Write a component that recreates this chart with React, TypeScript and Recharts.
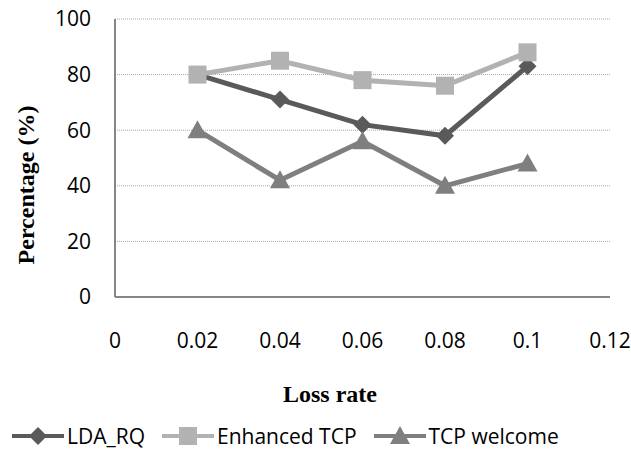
import React from 'react';
import { LineChart, Line, XAxis, YAxis, CartesianGrid } from 'recharts';

const lossRates = [0.02, 0.04, 0.06, 0.08, 0.1];
const ldaRq = [80, 71, 62, 58, 83];
const enhancedTcp = [80, 85, 78, 76, 88];
const tcpWelcome = [60, 42, 56, 40, 48];

const xTicks = [0, 0.02, 0.04, 0.06, 0.08, 0.1, 0.12];
const yTicks = [0, 20, 40, 60, 80, 100];

const data = lossRates.map((x, i) => ({
  x,
  lda: ldaRq[i],
  enhanced: enhancedTcp[i],
  welcome: tcpWelcome[i],
}));

const series = [
  { key: 'lda', name: 'LDA_RQ', color: '#5a5a5a', shape: 'diamond' },
  { key: 'enhanced', name: 'Enhanced TCP', color: '#b2b2b2', shape: 'square' },
  { key: 'welcome', name: 'TCP welcome', color: '#7f7f7f', shape: 'triangle' },
];

const FONT = '"Open Sans", "Liberation Sans", sans-serif';
const SERIF = '"Liberation Serif", "Times New Roman", serif';

const Marker = ({ cx, cy, shape, color }: any) => {
  if (cx == null || cy == null) return null;
  if (shape === 'diamond') {
    return <polygon points={`${cx},${cy - 9} ${cx + 9},${cy} ${cx},${cy + 9} ${cx - 9},${cy}`} fill={color} />;
  }
  if (shape === 'square') {
    return <rect x={cx - 9} y={cy - 9} width={18} height={18} fill={color} />;
  }
  return <polygon points={`${cx},${cy - 10} ${cx + 10},${cy + 8} ${cx - 10},${cy + 8}`} fill={color} />;
};

const LegendIcon = ({ shape, color }: any) => (
  <svg width={52} height={22} style={{ display: 'block' }}>
    <line x1={0} y1={11} x2={52} y2={11} stroke={color} strokeWidth={4} />
    <Marker cx={26} cy={11} shape={shape} color={color} />
  </svg>
);

const App = () => {
  return (
    <div style={{ position: 'absolute', left: 0, top: 0, width: 631, height: 452, background: '#fff' }}>
      <LineChart width={631} height={452} data={data} margin={{ top: 19, right: 21, left: 0, bottom: 0 }}>
        <CartesianGrid vertical={false} stroke="#a6a6a6" strokeDasharray="1 1" />
        <XAxis
          dataKey="x"
          type="number"
          domain={[0, 0.12]}
          ticks={xTicks}
          tickLine={false}
          tickMargin={30}
          height={155}
          axisLine={{ stroke: '#868686', strokeWidth: 2 }}
          tick={{ fill: '#000', fontSize: 21, fontFamily: FONT }}
          label={({ viewBox }: any) => (
            <text x={330} y={viewBox.y + 105} textAnchor="middle" fontFamily={SERIF} fontWeight="bold" fontSize={24} fill="#000">
              Loss rate
            </text>
          )}
        />
        <YAxis
          type="number"
          domain={[0, 100]}
          ticks={yTicks}
          width={115}
          tickLine={false}
          tickMargin={18}
          axisLine={{ stroke: '#868686', strokeWidth: 2 }}
          tick={{ fill: '#000', fontSize: 21, fontFamily: FONT }}
          label={() => (
            <text
              x={26}
              y={185}
              transform="rotate(-90 26 185)"
              textAnchor="middle"
              dominantBaseline="central"
              fontFamily={SERIF}
              fontWeight="bold"
              fontSize={24}
              fill="#000"
            >
              Percentage (%)
            </text>
          )}
        />
        {series.map((s) => (
          <Line
            key={s.key}
            dataKey={s.key}
            name={s.name}
            stroke={s.color}
            strokeWidth={5}
            isAnimationActive={false}
            dot={(p: any) => <Marker key={`${s.key}-${p.index}`} cx={p.cx} cy={p.cy} shape={s.shape} color={s.color} />}
            activeDot={false}
          />
        ))}
      </LineChart>
      <div
        style={{
          position: 'absolute',
          top: 424,
          left: 12,
          display: 'flex',
          alignItems: 'center',
          fontFamily: FONT,
          fontSize: 21,
          lineHeight: '24px',
          color: '#000',
          whiteSpace: 'nowrap',
        }}
      >
        {series.map((s, i) => (
          <span key={s.key} style={{ display: 'inline-flex', alignItems: 'center', marginRight: i < series.length - 1 ? 17 : 0 }}>
            <LegendIcon shape={s.shape} color={s.color} />
            <span style={{ marginLeft: 3 }}>{s.name}</span>
          </span>
        ))}
      </div>
    </div>
  );
};

export default App;
